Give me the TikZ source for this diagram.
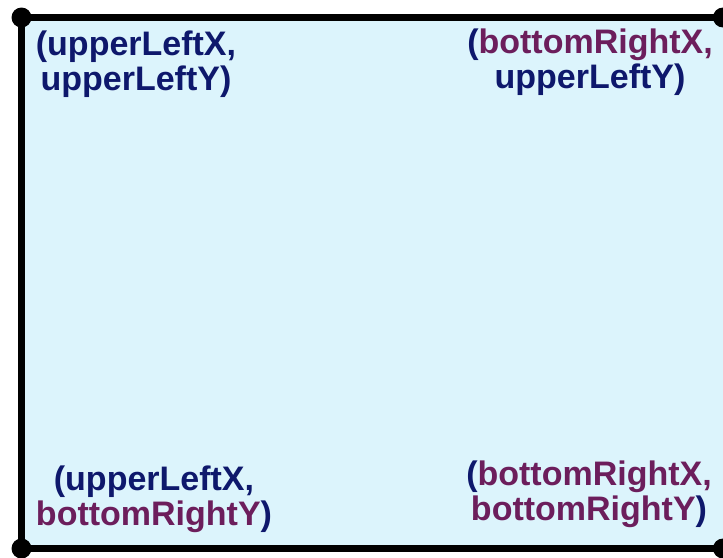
\documentclass[tikz,border=0pt]{standalone}
\usepackage{fontspec}
\setmainfont{Liberation Sans}
\definecolor{navy}{RGB}{14,24,108}
\definecolor{plum}{RGB}{108,30,92}
\definecolor{paleblue}{RGB}{220,244,252}
\tikzset{
  corner/.style={circle,fill=black,inner sep=0pt,minimum size=20pt},
  coordlabel/.style={align=center,font=\bfseries\fontsize{34}{35}\selectfont,text=navy,inner sep=0pt,anchor=base},
  frame/.style={line width=6.5pt}
}
\newcommand{\pu}[1]{\textcolor{plum}{#1}}
\begin{document}
\begin{tikzpicture}[x=1pt,y=-1pt]
  \useasboundingbox (0,0) rectangle (723,557);
  \clip (0,0) rectangle (723,557);
  \fill[white] (0,0) rectangle (723,557);
  % rectangle corners
  \coordinate (ul) at (21.5,17.5);
  \coordinate (ur) at (723,17.5);
  \coordinate (bl) at (21.5,548.5);
  \coordinate (br) at (723,548.5);
  \fill[paleblue] (ul) rectangle (br);
  \draw[frame] (ur) -- (ul) -- (bl) -- (br);
  \node[corner] (dul) at (ul) {};
  \node[corner] (dur) at (ur) {};
  \node[corner] (dbl) at (bl) {};
  \node[corner] (dbr) at (br) {};
  % coordinate labels (anchored at the baseline of the last line)
  \node[coordlabel] (lul) at (136,90) {(upperLeftX,\\upperLeftY)};
  \node[coordlabel] (lur) at (590,88) {(\pu{bottomRightX,}\\upperLeftY)};
  \node[coordlabel] (lbl) at (154,525) {(upperLeftX,\\\pu{bottomRightY})};
  \node[coordlabel] (lbr) at (589,520) {(\pu{bottomRightX,}\\\pu{bottomRightY})};
\end{tikzpicture}
\end{document}
